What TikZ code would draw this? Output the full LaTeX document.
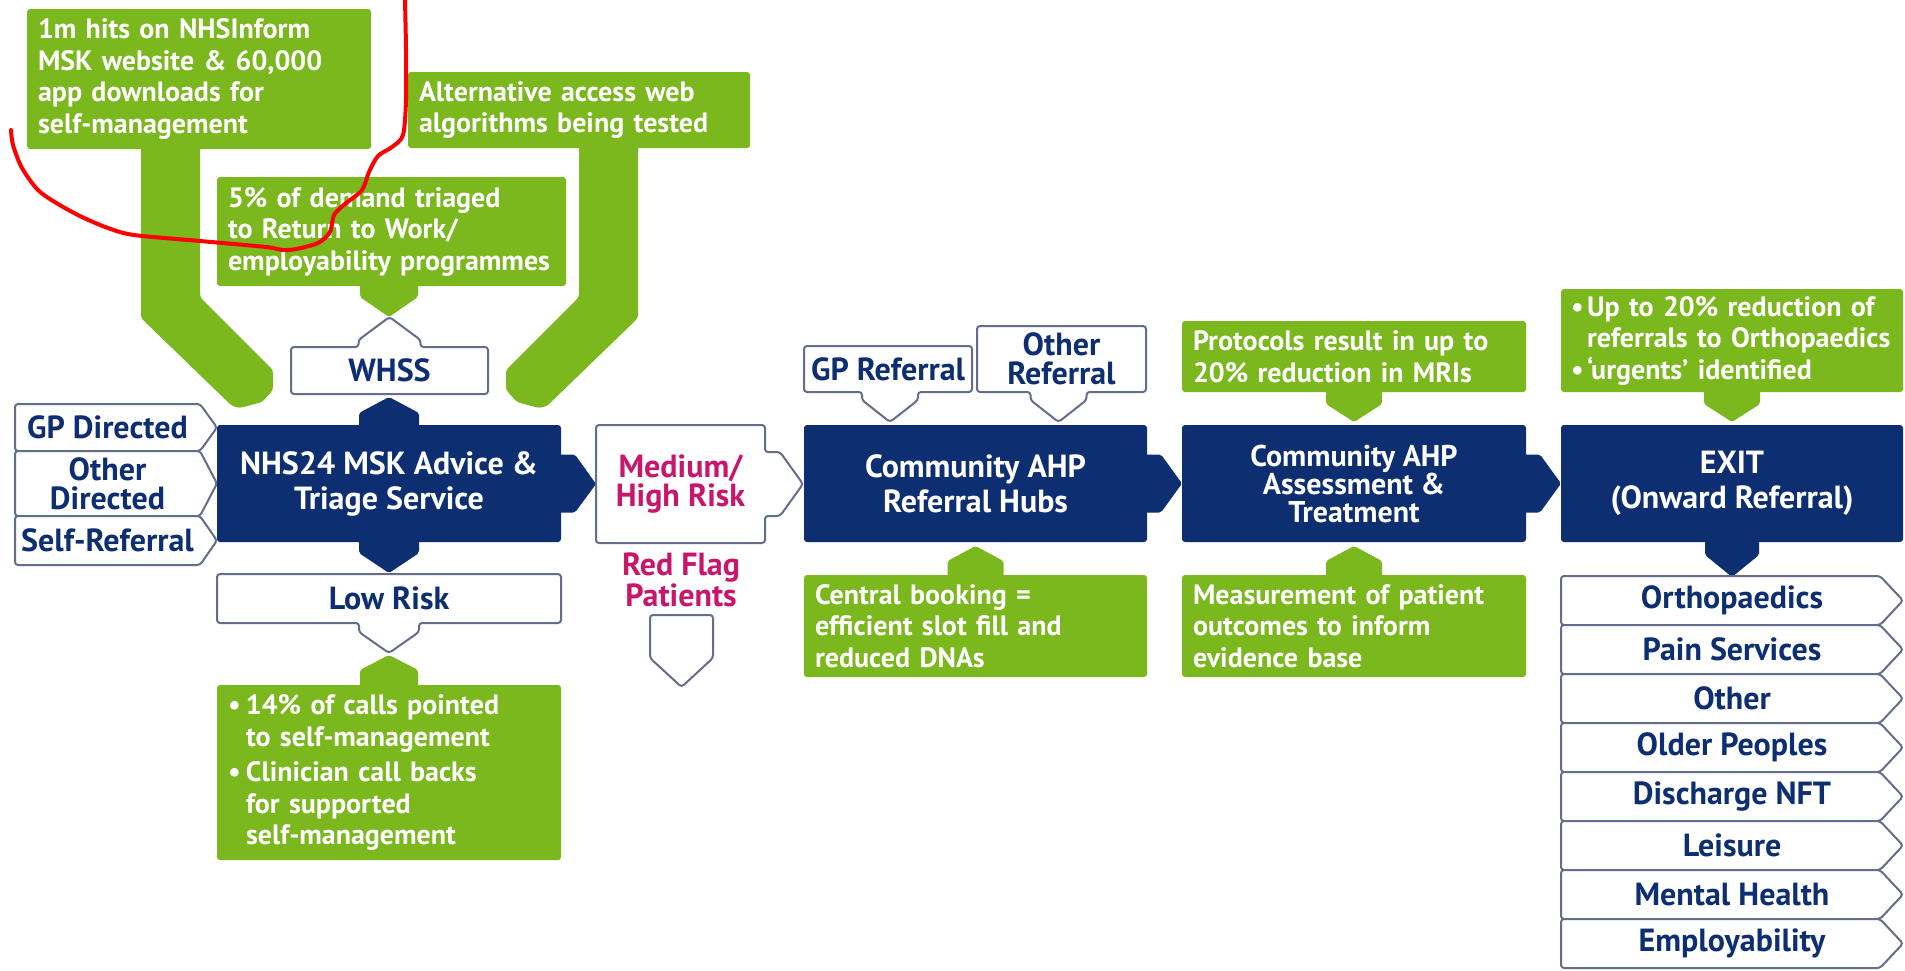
\documentclass[tikz,border=0pt]{standalone}
\usepackage{fontspec}
\setmainfont{PT Sans}
\usetikzlibrary{calc,backgrounds}
\definecolor{navy}{RGB}{13,46,112}
\definecolor{grn}{RGB}{122,184,30}
\definecolor{outl}{RGB}{100,110,140}
\definecolor{mag}{RGB}{200,22,108}
\newcommand\tabfill[6]{\fill[#1,rounded corners=2pt] ($(#2)+(-#3,#6)$) -- ($(#2)+(-#3,#4)$) -- ($(#2)+(0,#5)$) -- ($(#2)+(#3,#4)$) -- ($(#2)+(#3,#6)$) -- cycle;}
\tikzset{
 every node/.style={inner sep=0pt, outer sep=0pt},
 navybox/.style={fill=navy, text=white, rounded corners=3pt, align=center, font=\bfseries\fontsize{32}{35}\selectfont},
 greenbox/.style={fill=grn, text=white, rounded corners=3pt, align=left, inner xsep=11pt, font=\bfseries\fontsize{28}{31.5}\selectfont},
 lbl/.style={text=navy, align=center, font=\bfseries\fontsize{32}{29}\selectfont},
 outline/.style={draw=outl, line width=2pt, fill=white, rounded corners=3pt, line join=round},
 stem/.style={fill=grn, rounded corners=3pt},
 scribble/.style={draw=red, line width=4pt, line cap=round, line join=round}
}
\begin{document}
\hyphenpenalty=10000 \exhyphenpenalty=10000
\begin{tikzpicture}[x=1pt,y=-1pt]
\useasboundingbox (0,0) rectangle (1905,970);
% ---- green text boxes
\node[greenbox, text width=322pt, minimum height=140pt] (A) at (199,79) {1m hits on NHSInform\\MSK website \& 60,000\\app downloads for\\self-management};
\node[greenbox, text width=320pt, minimum height=76pt] (B) at (579,110) {Alternative access web\\algorithms being tested};
\node[greenbox, text width=327pt, minimum height=109pt] (C) at (391.5,231.5) {5\% of demand triaged\\to Return to Work/\\employability programmes};
% ---- main row
\node[navybox, minimum width=344pt, minimum height=117pt] (nhs) at (389,483.5) {NHS24 MSK Advice \&\\Triage Service};
\node[lbl, minimum width=197pt, minimum height=47pt] (whss) at (389.5,370.5) {WHSS};
\node[lbl, minimum width=344pt, minimum height=49pt] (low) at (389,598.5) {Low Risk};
\node[greenbox, text width=322pt, minimum height=175pt] (D) at (389,772.5) {\makebox[18pt][l]{•}14\% of calls pointed\\\hspace*{18pt}to self-management\\[4pt]\makebox[18pt][l]{•}Clinician call backs\\\hspace*{18pt}for supported\\\hspace*{18pt}self-management};
\node[lbl, minimum width=185pt, minimum height=47pt] (gpd) at (107.5,427.5) {GP Directed};
\node[lbl, minimum width=185pt, minimum height=65pt] (otd) at (107.5,483.5) {Other\\Directed};
\node[lbl, minimum width=185pt, minimum height=49pt] (slf) at (107.5,540.5) {Self-Referral};
\node[lbl, text=mag, minimum width=169pt, minimum height=118pt] (med) at (680.5,484) {Medium/\\High Risk};
\node[lbl, text=mag] (rflag) at (681,580) {Red Flag\\Patients};
\node[minimum width=63pt, minimum height=43pt] (rf) at (681.5,636.5) {};
\node[navybox, minimum width=343pt, minimum height=117pt] (hubs) at (975.5,483.5) {Community AHP\\Referral Hubs};
\node[lbl, minimum width=168pt, minimum height=46pt] (gpr) at (888,369) {GP Referral};
\node[lbl, minimum width=169pt, minimum height=66pt] (otr) at (1061.5,359) {Other\\Referral};
\node[greenbox, text width=321pt, minimum height=102pt] (E) at (975.5,626) {Central booking =\\efficient slot fill and\\reduced DNAs};
\node[navybox, minimum width=344pt, minimum height=117pt, font=\bfseries\fontsize{30}{28}\selectfont] (asm) at (1354,483.5) {Community AHP\\Assessment \&\\Treatment};
\node[greenbox, text width=322pt, minimum height=71pt] (F) at (1354,356.5) {Protocols result in up to\\20\% reduction in MRIs};
\node[greenbox, text width=322pt, minimum height=102pt] (G) at (1354,626) {Measurement of patient\\outcomes to inform\\evidence base};
\node[navybox, minimum width=342pt, minimum height=117pt] (exit) at (1732,483.5) {EXIT\\(Onward Referral)};
\node[greenbox, inner xsep=10pt, text width=322pt, minimum height=103pt] (H) at (1732,340.5) {\makebox[16pt][l]{•}Up to 20\% reduction of\\\hspace*{16pt}referrals to Orthopaedics\\\makebox[16pt][l]{•}‘urgents’ identified};
% ---- exit stack
\foreach \i/\t in {0/Orthopaedics,1/Pain Services,2/Other,3/Older Peoples,4/Discharge NFT,5/Leisure,6/Mental Health,7/Employability}{
  \node[lbl, minimum width=342pt, minimum height=49pt] (s\i) at (1732,600.5+49*\i) {\t};
}
% ---- background shapes
\begin{scope}[on background layer]
\fill[white] (0,0) rectangle (1905,970);
% stems
\path[stem] (141,146) -- (200,146) -- (200,297) -- (273,370) -- (273,390) -- (262,402) -- (240,408) -- (232,406) -- (141,318) -- cycle;
\path[stem] (638,146) -- (579,146) -- (579,297) -- (506,370) -- (506,390) -- (517,402) -- (539,408) -- (547,406) -- (638,318) -- cycle;
% tabs
\coordinate (cb) at (C.south -| nhs.north);
\tabfill{grn}{cb}{29}{11}{31}{-3}
\tabfill{navy}{nhs.north}{30}{-12}{-28}{3}
\tabfill{navy}{nhs.south}{30}{11}{31}{-3}
\tabfill{grn}{D.north}{29}{-15}{-30}{3}
\tabfill{grn}{E.north}{28}{-14}{-29}{3}
\tabfill{grn}{F.south}{28}{12}{30}{-3}
\tabfill{grn}{G.north}{28}{-14}{-29}{3}
\tabfill{grn}{H.south}{28}{12}{30}{-3}
\tabfill{navy}{exit.south}{27}{13}{35}{-3}
% navy arrows
\fill[navy,rounded corners=2pt] ($(nhs.east)+(-3,-29)$) -- ($(nhs.east)+(14,-29)$) -- (med.west) -- ($(nhs.east)+(14,29)$) -- ($(nhs.east)+(-3,29)$) -- cycle;
\fill[navy,rounded corners=2pt] ($(hubs.east)+(-3,-29)$) -- ($(hubs.east)+(14,-29)$) -- (asm.west) -- ($(hubs.east)+(14,29)$) -- ($(hubs.east)+(-3,29)$) -- cycle;
\fill[navy,rounded corners=2pt] ($(asm.east)+(-3,-29)$) -- ($(asm.east)+(14,-29)$) -- (exit.west) -- ($(asm.east)+(14,29)$) -- ($(asm.east)+(-3,29)$) -- cycle;
% outlined boxes
\path[outline] (whss.south west) -- (whss.north west) -- ($(whss.north)+(-31,0)$) -- ($(whss.north)+(-31,-7)$) -- ($(whss.north)+(0,-30)$) -- ($(whss.north)+(31,-7)$) -- ($(whss.north)+(31,0)$) -- (whss.north east) -- (whss.south east) -- cycle;
\path[outline] (low.north west) -- (low.north east) -- (low.south east) -- ($(low.south)+(30,0)$) -- ($(low.south)+(30,9)$) -- ($(low.south)+(0,30)$) -- ($(low.south)+(-30,9)$) -- ($(low.south)+(-30,0)$) -- (low.south west) -- cycle;
\path[outline] (gpr.north west) -- (gpr.north east) -- (gpr.south east) -- ($(gpr.south)+(30,0)$) -- ($(gpr.south)+(30,8)$) -- ($(gpr.south)+(2,30)$) -- ($(gpr.south)+(-26,8)$) -- ($(gpr.south)+(-26,0)$) -- (gpr.south west) -- cycle;
\path[outline] (otr.north west) -- (otr.north east) -- (otr.south east) -- ($(otr.south)+(25,0)$) -- ($(otr.south)+(25,8)$) -- ($(otr.south)+(-3,30)$) -- ($(otr.south)+(-31,8)$) -- ($(otr.south)+(-31,0)$) -- (otr.south west) -- cycle;
\path[outline] (med.north west) -- (med.north east) -- ($(med.east)+(0,-32)$) -- ($(med.east)+(15,-32)$) -- ($(med.east)+(38,0)$) -- ($(med.east)+(15,32)$) -- ($(med.east)+(0,32)$) -- (med.south east) -- (med.south west) -- cycle;
\path[outline] (rf.south west) -- (rf.north west) -- (rf.north east) -- (rf.south east) -- ($(rf.south)+(0,29)$) -- cycle;
\foreach \n in {gpd,otd,slf}{
  \path[outline] (\n.north west) -- (\n.north east) -- ($(\n.east)+(17,0)$) -- (\n.south east) -- (\n.south west) -- cycle;
}
\foreach \i in {0,...,7}{
  \path[outline] (s\i.north west) -- ($(s\i.north east)+(-23,0)$) -- (s\i.east) -- ($(s\i.south east)+(-23,0)$) -- (s\i.south west) -- cycle;
}
\end{scope}
% ---- red freehand annotation
\draw[scribble] plot[smooth] coordinates {(405,0) (406,50) (406,100) (403,135) (392,147) (378,156) (369,172) (362,190) (345,204) (334,215) (330,232) (318,243) (296,249) (282,250) (266,247) (200,241) (134,235) (108,228) (82,217) (58,204) (38,190) (22,168) (13,145) (11,130)};
\end{tikzpicture}
\end{document}
